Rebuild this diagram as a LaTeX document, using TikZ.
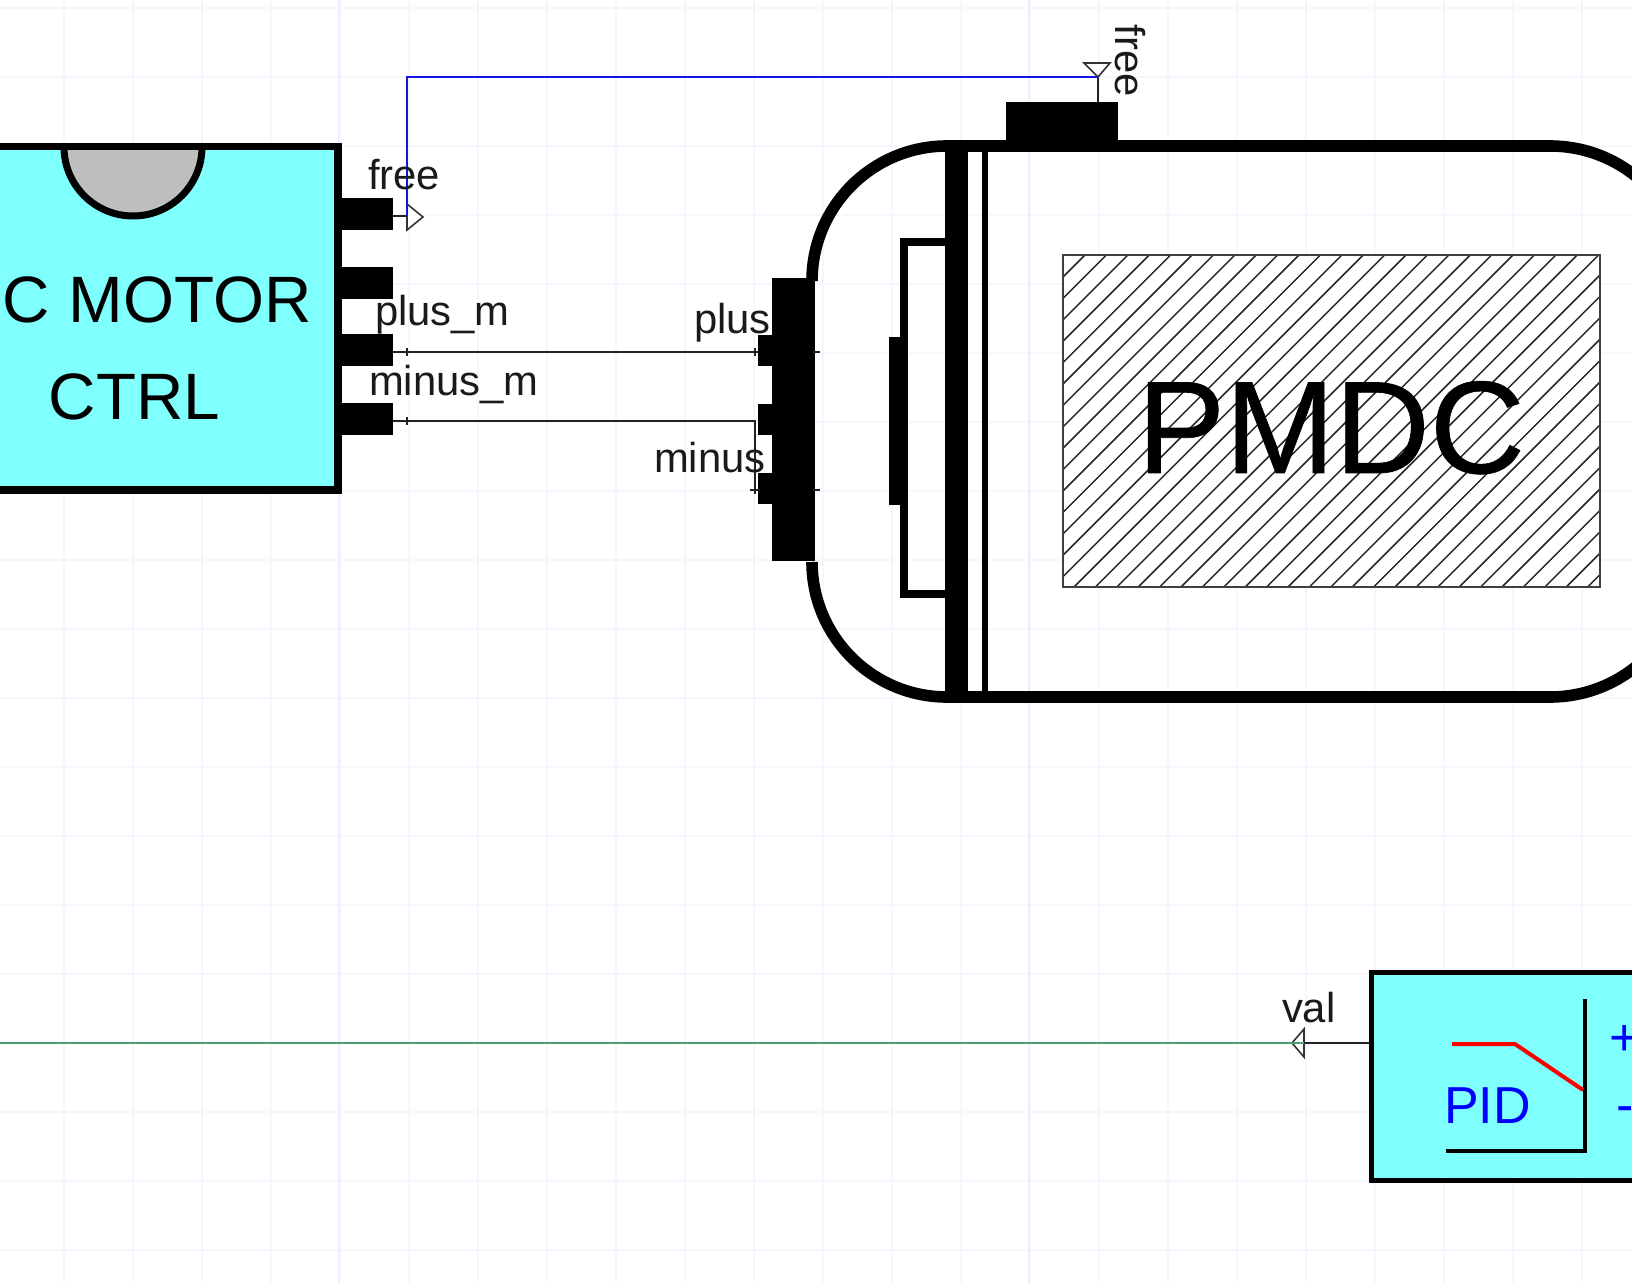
\documentclass[tikz,border=0pt]{standalone}
\usepackage{fontspec}
\setmainfont{Liberation Sans}
\newfontfamily\pmdcfont{Liberation Sans}[FakeBold=0.5]
\tikzset{
  x=0.5pt,y=-0.5pt,
  gridfine/.style={draw=gridc,line width=1pt},
  gridmajor/.style={draw=gridm,line width=1pt},
  pinbox/.style={fill=black,draw=none},
  lbl/.style={anchor=base west,inner sep=0pt,outer sep=0pt,text=lblc,font=\fontsize{20.9}{24}\selectfont},
  big/.style={anchor=base,inner sep=0pt,outer sep=0pt,text=black,font=\fontsize{32.8}{38}\selectfont},
  bluetxt/.style={anchor=base west,inner sep=0pt,outer sep=0pt,text=blue,font=\fontsize{26}{30}\selectfont},
  wire/.style={draw=wirec,line width=0.8pt},
  tick/.style={draw=wirec,line width=0.8pt},
  porttri/.style={draw=tric,fill=white,line width=0.8pt,line join=miter},
}
\definecolor{gridc}{HTML}{F6F6FF}
\definecolor{gridm}{HTML}{EEEEFF}
\definecolor{cyanbox}{HTML}{80FFFF}
\definecolor{domegray}{HTML}{BEBEBE}
\definecolor{wirec}{HTML}{222222}
\definecolor{tric}{HTML}{333333}
\definecolor{lblc}{HTML}{1A1A1A}
\definecolor{bluewire}{HTML}{1414E6}
\definecolor{greenwire}{HTML}{4C9F70}
\begin{document}
\begin{tikzpicture}
\clip (0,0) rectangle (1632,1283);
\fill[white] (0,0) rectangle (1632,1283);
% grid
\foreach \k in {0,...,24} {
  \draw[gridfine] ({-5.5+69*\k},0) -- ({-5.5+69*\k},1283);
}
\foreach \k in {0,...,18} {
  \draw[gridfine] (0,{8+69*\k}) -- (1632,{8+69*\k});
}
\draw[gridmajor] (338.5,0) -- (338.5,1283);
\draw[gridmajor] (1029,0) -- (1029,1283);
% controller
\draw[fill=cyanbox,draw=black,line width=3.6pt] (-20,146.5) rectangle (338,490);
\draw[fill=domegray,draw=black,line width=3.5pt] (64,147) arc[start angle=180,end angle=360,radius=34.5pt];
\fill[black] (-20,143) rectangle (338,150);
\node[big,anchor=base west] (ctrlA) at (3,323) {C MOTOR};
\node[big] (ctrlB) at (134.5,419) {CTRL};
\fill[pinbox] (342,198) rectangle (393,230);
\fill[pinbox] (342,267) rectangle (393,299);
\fill[pinbox] (342,334) rectangle (393,366);
\fill[pinbox] (342,403) rectangle (393,435);
\coordinate (cFree) at (393,216);
\coordinate (cFreeB) at (407,216);
\coordinate (cPlus) at (393,352);
\coordinate (cMinus) at (393,421);
% motor body
\draw[draw=black,line width=5.8pt]
  (812,281) arc[start angle=180,end angle=90,x radius=67.5pt,y radius=67.5pt]
  -- (1550,146) arc[start angle=90,end angle=0,x radius=68pt,y radius=67.5pt]
  -- (1686,562) arc[start angle=0,end angle=-90,x radius=68pt,y radius=67.5pt]
  -- (947,697) arc[start angle=270,end angle=180,x radius=67.5pt,y radius=67.5pt];
\fill[black] (945,140) rectangle (968,703);
\fill[black] (982,140) rectangle (988,703);
\draw[draw=black,line width=4pt] (945,242) -- (904,242) -- (904,594) -- (945,594);
\fill[black] (889,337) rectangle (904,505);
\fill[pinbox] (772,278) rectangle (815,561);
\fill[pinbox] (758,335) rectangle (772,366);
\fill[pinbox] (758,404) rectangle (772,435);
\fill[pinbox] (758,473) rectangle (772,504);
\fill[pinbox] (1006,102) rectangle (1118,146);
\coordinate (mPlus) at (755,352);
\coordinate (mMinusTop) at (755,421);
\coordinate (mMinus) at (755,490);
\coordinate (mFree) at (1098,102);
\coordinate (mFreeT) at (1098,77);
% hatch panel
\begin{scope}
\clip (1063,255) rectangle (1600,587);
\fill[white] (1063,255) rectangle (1600,587);
\foreach \k in {0,...,44} {
  \draw[draw=black!85,line width=0.75pt] ({710.2+21.4*\k},587) -- ({710.2+21.4*\k+332},255);
}
\end{scope}
\draw[draw=black!75,line width=1.2pt] (1063,255) rectangle (1600,587);
\node[anchor=base west,inner sep=0pt,font=\pmdcfont\fontsize{65.8}{72}\selectfont] (pmdc) at (1137,473) {PMDC};
% ticks
\draw[tick] (813,352) -- (820,352);
\draw[tick] (813,490) -- (820,490);
\draw[tick] (750,490) -- (760,490);
\draw[tick] (755,348) -- (755,356);
\draw[tick] (407,348) -- (407,356);
\draw[tick] (407,417) -- (407,425);
\draw[tick] (755,494) -- (755,486);
% wires
\draw[wire] (cPlus) -- (mPlus) -- (758,352);
\draw[wire] (cMinus) -- (mMinusTop) -- (mMinus);
\draw[wire] (cFree) -- (cFreeB);
\coordinate (tA) at (407,204);
\coordinate (tB) at (423,217);
\coordinate (tC) at (407,230);
\draw[porttri] (tA) -- (tB) -- (tC) -- cycle;
\draw[wire] (mFree) -- (mFreeT);
\coordinate (tD) at (1084,63);
\coordinate (tE) at (1110,63);
\draw[porttri] (tD) -- (tE) -- (mFreeT) -- cycle;
\draw[draw=bluewire,line width=1.1pt] (cFreeB) -- (407,77) -- (mFreeT);
% labels
\node[lbl] (lfree) at (368,190) {free};
\node[lbl] (lplusm) at (375,326) {plus\_m};
\node[lbl] (lminusm) at (369,395) {minus\_m};
\node[lbl] (lplus) at (694,334) {plus};
\node[lbl] (lminus) at (654,472) {minus};
\node[lbl,rotate=-90] (lfreeR) at (1115,25) {free};
% PID block
\draw[fill=cyanbox,draw=black,line width=2.5pt] (1371.5,972.5) rectangle (1660,1180);
\draw[draw=black,line width=2.3pt] (1585,999) -- (1585,1151) -- (1446,1151);
\draw[draw=red,line width=2pt] (1452,1044) -- (1515,1044) -- (1583,1090);
\node[bluetxt] (pid) at (1444,1123) {PID};
\node[bluetxt] (pidplus) at (1609,1055) {+};
\node[bluetxt] (pidminus) at (1616,1122) {-};
\coordinate (pidOut) at (1369,1043);
\coordinate (pidPort) at (1304,1043);
\coordinate (gTip) at (1292,1043);
\coordinate (gEnd) at (0,1043);
\coordinate (tF) at (1304,1029);
\coordinate (tG) at (1304,1057);
\draw[wire] (pidOut) -- (pidPort);
\draw[porttri] (tF) -- (gTip) -- (tG) -- cycle;
\draw[draw=greenwire,line width=1pt] (gEnd) -- (pidPort);
\node[lbl] (lval) at (1282,1022) {val};
\end{tikzpicture}
\end{document}
